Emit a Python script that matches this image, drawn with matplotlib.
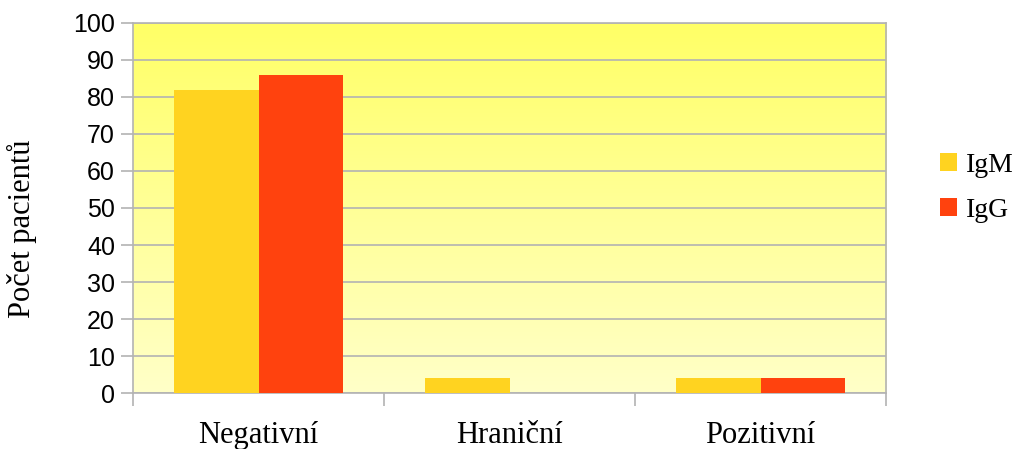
import numpy as np
import matplotlib.pyplot as plt
from matplotlib.colors import LinearSegmentedColormap

# Počty pacientů podle výsledku testu
kategorie = ['Negativní', 'Hraniční', 'Pozitivní']
igm = [82, 4, 4]
igg = [86, 0, 4]

fig = plt.figure(figsize=(10.16, 4.49), dpi=100)
ax = fig.add_axes([0.1309, 0.1247, 0.7412, 0.8241])

# pozadí s přechodem od žluté nahoře ke světlé dole
cmap = LinearSegmentedColormap.from_list('bg', ['#ffffc8', '#ffff66'])
grad = np.linspace(0, 1, 256).reshape(-1, 1)
ax.imshow(grad, cmap=cmap, origin='lower', aspect='auto',
          extent=[0, 3, 0, 100], zorder=0)

x = np.arange(len(kategorie)) + 0.5
w = 0.335
ax.bar(x - w / 2, igm, w, color='#ffd320', label='IgM', zorder=3)
ax.bar(x + w / 2, igg, w, color='#ff420e', label='IgG', zorder=3)

ax.set_xlim(0, 3)
ax.set_ylim(0, 100)
ax.set_yticks(range(0, 101, 10))
ax.yaxis.grid(True, color='#b3b3b3', linewidth=1.2, zorder=1)
ax.set_axisbelow(True)

# čárky os na hranicích kategorií
ax.set_xticks([0, 1, 2, 3])
ax.set_xticklabels([])
ax.set_xticks(x, minor=True)
ax.set_xticklabels(kategorie, minor=True, family='Liberation Serif', fontsize=22)
ax.tick_params(axis='x', which='minor', length=0, pad=20)
ax.tick_params(axis='x', which='major', length=9, color='#b3b3b3', width=1.2)
ax.tick_params(axis='y', length=9, color='#b3b3b3', width=1.2, labelsize=18, pad=4)
for t in ax.get_yticklabels():
    t.set_family('Liberation Sans')

for s in ax.spines.values():
    s.set_color('#b3b3b3')
    s.set_linewidth(1.2)

ax.set_ylabel('Počet pacientů', family='Liberation Serif', fontsize=22)
ax.yaxis.set_label_coords(-0.127, 0.443)

ax.legend(loc='center left', bbox_to_anchor=(1.072, 0.555), frameon=False,
          prop={'family': 'Liberation Serif', 'size': 20},
          borderpad=0, borderaxespad=0,
          handlelength=0.62, handleheight=0.62, handletextpad=0.3, labelspacing=0.72)

fig.savefig('out.png', dpi=100)
